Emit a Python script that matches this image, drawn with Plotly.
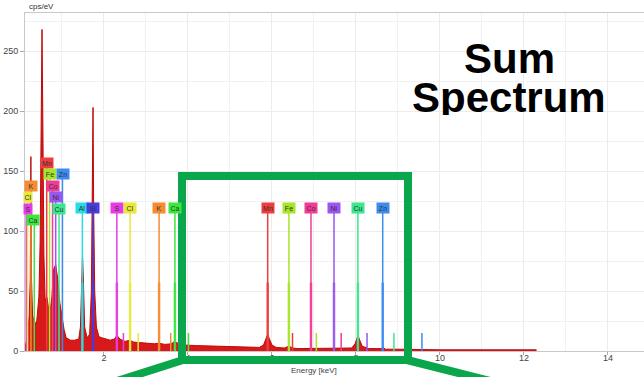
import plotly.graph_objects as go

# ---------------- data ----------------
energy_kev = [0.12, 0.18, 0.22, 0.245, 0.26, 0.275, 0.30, 0.35, 0.40, 0.45, 0.48, 0.505, 0.525,
              0.545, 0.57, 0.60, 0.64, 0.68, 0.72, 0.76, 0.80, 0.85, 0.90, 0.95, 1.00, 1.05,
              1.10, 1.20, 1.30, 1.40, 1.44, 1.47, 1.49, 1.51, 1.54, 1.60, 1.66, 1.70, 1.725,
              1.74, 1.755, 1.78, 1.82, 1.88, 1.95, 2.05, 2.15, 2.25, 2.31, 2.38, 2.50, 2.62,
              2.70, 2.85, 3.0, 3.2, 3.31, 3.45, 3.6, 3.69, 3.78, 3.9, 4.2, 4.6, 5.0, 5.4, 5.7,
              5.8, 5.87, 5.9, 5.93, 6.0, 6.1, 6.3, 6.4, 6.5, 6.6, 7.0, 7.5, 7.9, 7.98, 8.03,
              8.05, 8.08, 8.15, 8.3, 8.6, 8.65, 8.7, 9.0, 9.5, 10.0, 11.0, 12.0, 12.3]
cps_per_ev = [3, 12, 30, 60, 162, 60, 30, 22, 25, 45, 90, 190, 268,
              190, 80, 42, 45, 36, 34, 45, 68, 72, 60, 40, 28, 18,
              11, 9, 9, 10, 20, 60, 80, 60, 20, 11, 14, 50, 120,
              203, 120, 50, 20, 12, 11, 10, 9, 10, 13, 10, 8, 9,
              7.5, 7, 6.5, 6, 6.5, 5.5, 6, 8, 6, 5, 4.5, 4, 3.5, 3, 3,
              5, 11, 14, 11, 5, 3, 2.5, 4, 2.5, 2, 2, 2, 2.5, 6, 11,
              13, 10, 4, 2, 2, 3, 1.5, 1.5, 1.2, 1, 1, 1, 1]

# element markers: K-alpha line, K-beta line, L line (keV)
elements = ["Al", "Si", "S", "Cl", "K", "Ca", "Mn", "Fe", "Co", "Ni", "Cu", "Zn"]
k_alpha = [1.486, 1.740, 2.307, 2.622, 3.313, 3.690, 5.899, 6.404, 6.930, 7.478, 8.047, 8.638]
k_beta = [None, None, 2.464, 2.815, 3.590, 4.013, 6.490, 7.058, 7.649, 8.265, 8.905, 9.572]
l_line = [None, None, 0.149, 0.182, 0.262, 0.341, 0.637, 0.705, 0.776, 0.851, 0.930, 1.012]
colors = ["rgb(40,220,230)", "rgb(70,60,225)", "rgb(230,60,230)", "rgb(232,232,60)",
          "rgb(245,140,50)", "rgb(60,230,60)", "rgb(240,60,60)", "rgb(165,230,40)",
          "rgb(240,60,150)", "rgb(155,85,240)", "rgb(60,230,140)", "rgb(60,140,240)"]

# ---------------- geometry helpers (layout only) ----------------
L, R, T, B = 25, 0, 13, 26
W, H = 644, 377
X0, X1 = 0.12, 14.86
Y1 = 281.7
pw, ph = W - L - R, H - T - B


def px_to_x(px):
    return X0 + (px - L) / pw * (X1 - X0)


def py_to_y(py):
    return (H - B - py) / ph * Y1


def ppx(px):
    return (px - L) / pw


def ppy(py):
    return (H - B - py) / ph


row_y_px = 208          # label row for K lines
box_h_px = 10
kb_top = 15
ka2_top = 57

# left cluster label box positions (pixel centres)
l_box_px = {"S": (28, 209), "Cl": (28, 197), "K": (31, 186), "Ca": (33, 220),
            "Mn": (47, 163), "Fe": (50, 174), "Co": (53, 186), "Ni": (56, 197),
            "Cu": (59, 209), "Zn": (63, 174)}

fig = go.Figure()

fig.add_trace(go.Scatter(x=energy_kev, y=cps_per_ev, mode="lines", fill="tozeroy",
                         line=dict(color="rgb(190,10,10)", width=1),
                         fillcolor="rgb(215,25,25)", hoverinfo="skip", showlegend=False))

annotations = []
for i, el in enumerate(elements):
    c = colors[i]
    top_k = py_to_y(row_y_px + box_h_px / 2)
    xs, ys = [k_alpha[i], k_alpha[i], None], [0, top_k, None]
    if k_beta[i] is not None:
        xs += [k_beta[i], k_beta[i], None]
        ys += [0, kb_top, None]
    if l_line[i] is not None:
        bx, by = l_box_px[el]
        xs += [l_line[i], l_line[i], None]
        ys += [0, py_to_y(by + box_h_px / 2), None]
    fig.add_trace(go.Scatter(x=xs, y=ys, mode="lines", line=dict(color=c, width=1.5),
                             hoverinfo="skip", showlegend=False))
    fig.add_trace(go.Scatter(x=[k_alpha[i], k_alpha[i]], y=[0, ka2_top], mode="lines",
                             line=dict(color=c, width=2.5), opacity=0.85,
                             hoverinfo="skip", showlegend=False))
    annotations.append(dict(x=k_alpha[i], y=py_to_y(row_y_px), xref="x", yref="y",
                            text=el, showarrow=False, bgcolor=c, width=12, height=10,
                            borderpad=0, font=dict(size=7, color="#333",
                                                   family="Liberation Sans, Arial")))
    if l_line[i] is not None:
        bx, by = l_box_px[el]
        wbox = 12 if bx > 30 else 8
        annotations.append(dict(x=px_to_x(bx), y=py_to_y(by), xref="x", yref="y",
                                text=el, showarrow=False, bgcolor=c, width=wbox, height=10,
                                borderpad=0, font=dict(size=7, color="#333",
                                                       family="Liberation Sans, Arial")))

annotations += [
    dict(x=ppx(27), y=ppy(7), xref="paper", yref="paper", text="cps/eV", showarrow=False,
         xanchor="left", yanchor="middle", font=dict(size=8, color="#333",
                                                    family="Liberation Sans, Arial")),
    dict(x=ppx(314), y=ppy(370), xref="paper", yref="paper", text="Energy [keV]",
         showarrow=False, xanchor="center", yanchor="middle",
         font=dict(size=8, color="#444", family="Liberation Sans, Arial")),
    dict(x=ppx(509), y=ppy(58), xref="paper", yref="paper", text="<b>Sum</b>",
         showarrow=False, xanchor="center", yanchor="middle", height=36,
         font=dict(size=42, color="#000", family="Liberation Sans, Arial")),
    dict(x=ppx(509), y=ppy(97), xref="paper", yref="paper", text="<b>Spectrum</b>",
         showarrow=False, xanchor="center", yanchor="middle", height=36,
         font=dict(size=42, color="#000", family="Liberation Sans, Arial")),
]

green = "rgb(10,166,75)"
rect_path = (f"M {ppx(182)},{ppy(360)} L {ppx(182)},{ppy(176)} L {ppx(408)},{ppy(176)} "
             f"L {ppx(408)},{ppy(360)} Z")
shapes = [
    dict(type="path", path=rect_path, xref="paper", yref="paper",
         line=dict(color=green, width=8), layer="above"),
    dict(type="line", x0=ppx(183), y0=ppy(360), x1=ppx(114), y1=ppy(382), xref="paper",
         yref="paper", line=dict(color=green, width=8), layer="above"),
    dict(type="line", x0=ppx(407), y0=ppy(360), x1=ppx(494), y1=ppy(382), xref="paper",
         yref="paper", line=dict(color=green, width=8), layer="above"),
]

fig.update_layout(
    width=W, height=H, margin=dict(l=L, r=R, t=T, b=B),
    paper_bgcolor="white", plot_bgcolor="white",
    annotations=annotations, shapes=shapes,
    font=dict(family="Liberation Sans, Arial", size=9, color="#444"),
    xaxis=dict(range=[X0, X1], tick0=0, dtick=2, showgrid=True, gridcolor="#ececec",
               minor=dict(dtick=1, showgrid=True, gridcolor="#f1f1f1"),
               showline=True, linecolor="#c8c8c8", mirror=True, ticks="outside",
               ticklen=3, tickcolor="#aaa", zeroline=False, tickfont=dict(size=9),
               ticklabelstandoff=-5),
    yaxis=dict(range=[0, Y1], dtick=50, showgrid=True, gridcolor="#ececec",
               minor=dict(dtick=25, showgrid=True, gridcolor="#f1f1f1"),
               showline=True, linecolor="#c8c8c8", ticks="outside", ticklen=4,
               tickcolor="#aaa", zeroline=False, tickfont=dict(size=9)),
)

fig.write_html("out.html", config={"displayModeBar": False},
               post_script="document.body.style.margin='0';document.body.style.overflow='hidden';")
